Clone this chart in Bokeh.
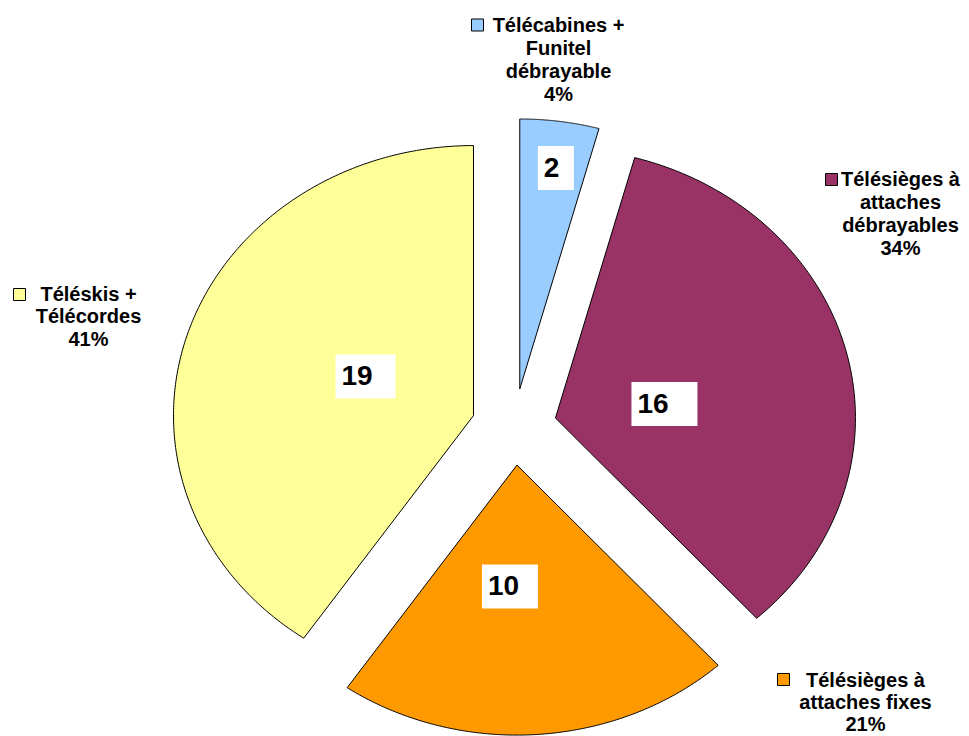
import numpy as np
from bokeh.plotting import figure
from bokeh.models import Range1d
from bokeh.embed import file_html
from bokeh.resources import INLINE
from bokeh.core.properties import value

# ---- data (slice order: clockwise from 12 o'clock) ----
categories = [
    "Télécabines + Funitel débrayable",
    "Télésièges à attaches débrayables",
    "Télésièges à attaches fixes",
    "Téléskis + Télécordes",
]
values = [2, 16, 10, 19]
pct_labels = ["4%", "34%", "21%", "41%"]
label_lines = [
    ["Télécabines +", "Funitel", "débrayable"],
    ["Télésièges à", "attaches", "débrayables"],
    ["Télésièges à", "attaches fixes"],
    ["Téléskis +", "Télécordes"],
]
colors = ["#99CCFF", "#993366", "#FF9900", "#FFFF99"]

# ---- style / layout ----
FONT = "Liberation Sans"
CX, CY = 513.6, 426.4          # pie centre (canvas units, y downward)
RX, RY = 300.0, 270.0          # elliptical pie radii
EXPLODE = 0.1417               # explosion as fraction of radius
val_r = [0.827, 0.367, 0.4506, 0.388]     # value label radial fraction
val_da = [0.7, 5.3, 6.8, 4.7]             # value label angle adjust (deg)
val_box_w = [36, 66, 56, 60]
cat_anchor = [(558, 31), (900, 185), (865, 686), (88, 300)]   # centre x, first baseline
cat_line_h = [23, 23, 22, 22.5]
key_off = [(-81, -6.5), (-69, -6), (-82, -7), (-69, -6)]

W, H = 969, 736
p = figure(width=W, height=H, x_range=Range1d(0, W), y_range=Range1d(H, 0),
           output_backend="svg", toolbar_location=None, min_border=0)
p.axis.visible = False
p.grid.visible = False
p.outline_line_color = None
p.background_fill_color = "white"
p.border_fill_color = "white"

vals = np.array(values, dtype=float)
frac = vals / vals.sum()
ends = np.cumsum(frac) * 360.0
starts = ends - frac * 360.0
mids = (starts + ends) / 2.0

xs_all, ys_all, origins = [], [], []
for s, e, m in zip(starts, ends, mids):
    mr = np.radians(m)
    ox = CX + EXPLODE * RX * np.sin(mr)
    oy = CY - EXPLODE * RY * np.cos(mr)
    t = np.radians(np.linspace(s, e, 240))
    xs = np.concatenate([[ox], ox + RX * np.sin(t)])
    ys = np.concatenate([[oy], oy - RY * np.cos(t)])
    xs_all.append(list(xs))
    ys_all.append(list(ys))
    origins.append((ox, oy))

p.patches(xs_all, ys_all, fill_color=colors, line_color="black", line_width=1)

# value labels in white boxes
for i, v in enumerate(values):
    ox, oy = origins[i]
    th = np.radians(mids[i] + val_da[i])
    bx = ox + val_r[i] * RX * np.sin(th)
    by = oy - val_r[i] * RY * np.cos(th)
    bw = val_box_w[i]
    p.rect(x=[bx], y=[by], width=bw, height=44, width_units="screen", height_units="screen",
           fill_color="white", line_color=None)
    p.text(x=[bx], y=[by], text=[str(v)], x_offset=-bw / 2 + 6, y_offset=-1,
           text_font=value(FONT), text_font_style="bold", text_font_size="28px",
           text_align="left", text_baseline="alphabetic", text_color="black")

# category labels with legend keys
for i in range(len(values)):
    ax, ay = cat_anchor[i]
    lines = label_lines[i] + [pct_labels[i]]
    p.text(x=[ax] * len(lines), y=[ay + k * cat_line_h[i] for k in range(len(lines))], text=lines,
           y_offset=-7,
           text_font=value(FONT), text_font_style="bold", text_font_size="20px",
           text_align="center", text_baseline="alphabetic", text_color="black")
    kx, ky = key_off[i]
    p.rect(x=[ax + kx], y=[ay + ky], width=12, height=12, width_units="screen",
           height_units="screen", fill_color=colors[i], line_color="black", line_width=1)

open("out.html", "w").write(file_html(p, INLINE))
